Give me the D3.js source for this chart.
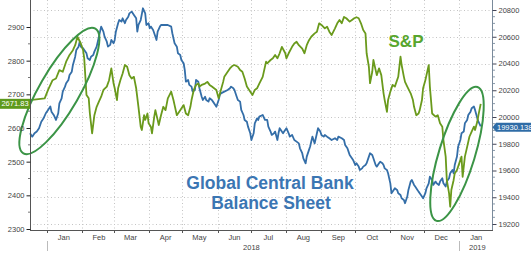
<!DOCTYPE html>
<html><head><meta charset="utf-8">
<script src="https://cdn.jsdelivr.net/npm/d3@7"></script>
<style>
html,body{margin:0;padding:0;background:#fff;}
svg{display:block;}
text{font-family:"Liberation Sans",Arial,sans-serif;}
</style></head>
<body><svg id="c" width="531" height="258"></svg>
<script>
// S&P 500 (left axis) — x = days since 2018-01-01
const spDays = [-15,-2,1,5,8,11,14,17,20,23,25,27,30,32,33,35,37,38,40,42,44,46,48,50,53,55,57,59,60,62,63,65,67,69,71,73,75,77,79,81,83,84,86,87,89,90,92,93,95,96,98,99,101,103,105,107,110,112,113,115,118,120,121,123,125,127,128,130,132,134,135,137,140,142,144,146,148,150,152,154,156,157,160,162,164,166,169,171,173,175,177,180,182,184,186,188,191,194,195,198,200,202,204,206,208,211,212,214,217,219,221,223,226,228,230,232,234,237,239,241,243,246,248,250,252,255,257,259,261,263,265,268,270,272,274,276,278,280,282,283,285,286,288,289,291,292,294,296,298,299,301,302,304,306,308,311,313,314,316,317,319,322,324,325,327,329,330,332,333,335,336,338,339,341,344,346,348,350,351,353,354,356,357,358,360,361,363,365,367,368,370,372,374,376,378,379,381,382,384];
const spValues = [2683,2688,2713,2742,2747,2772,2767,2797,2817,2831,2846,2871,2851,2831,2807,2698,2688,2643,2584,2638,2663,2678,2693,2713,2723,2742,2777,2732,2718,2683,2718,2742,2762,2787,2782,2757,2747,2752,2718,2663,2604,2594,2638,2624,2643,2614,2604,2584,2634,2653,2624,2609,2638,2663,2653,2688,2708,2683,2668,2638,2653,2663,2668,2643,2638,2663,2683,2713,2728,2732,2723,2728,2732,2737,2728,2723,2718,2713,2688,2713,2737,2752,2767,2777,2784,2787,2782,2772,2767,2747,2723,2708,2698,2713,2718,2732,2752,2797,2792,2802,2807,2817,2807,2822,2841,2822,2807,2822,2841,2851,2856,2846,2836,2822,2846,2861,2871,2881,2886,2911,2906,2896,2901,2886,2876,2896,2911,2921,2911,2930,2926,2916,2921,2926,2929,2926,2911,2891,2881,2822,2782,2733,2767,2802,2772,2757,2777,2757,2703,2683,2648,2683,2708,2728,2723,2752,2812,2787,2752,2737,2723,2703,2683,2663,2638,2643,2653,2683,2718,2742,2757,2787,2723,2643,2634,2638,2614,2604,2564,2515,2445,2406,2366,2416,2445,2465,2475,2495,2515,2455,2515,2544,2574,2589,2604,2594,2619,2638,2671.83];

// Global Central Bank Balance Sheet (right axis) — x = days since 2018-01-01
const gcbDays = [-15,-13,-11,-9,-7,-5,-3,-1,1,3,4,6,8,10,11,13,14,16,17,19,20,22,23,25,26,28,29,30,32,33,35,36,38,39,41,42,44,45,47,48,50,51,53,54,56,57,59,60,61,63,64,66,67,69,70,72,73,75,77,79,80,81,83,85,87,88,90,91,92,94,95,97,98,100,101,104,107,110,111,113,115,116,118,119,121,122,123,125,126,128,129,131,132,134,135,137,138,140,141,143,144,146,147,149,150,152,153,154,157,160,162,163,165,166,168,169,171,172,174,175,177,178,180,181,183,184,186,187,188,191,193,195,196,198,199,201,202,204,205,206,209,210,212,214,215,217,219,221,223,224,226,227,229,230,232,233,235,236,237,239,240,242,243,245,246,248,250,252,255,257,258,261,263,264,266,267,268,270,271,273,274,276,277,279,280,282,283,285,286,288,289,291,292,294,295,297,298,299,301,302,304,305,307,308,310,311,313,314,316,317,319,320,322,323,325,326,328,329,330,332,333,335,336,338,339,341,342,344,345,347,348,350,351,353,354,356,357,359,360,361,363,364,366,367,369,370,372,373,375,376,378,379,381,382,384];
const gcbValues = [19878,19853,19878,19891,19916,19965,19990,20028,20053,20078,20040,20015,19978,20028,20102,20140,20190,20227,20252,20277,20314,20339,20389,20451,20501,20526,20563,20526,20514,20501,20476,20439,20426,20451,20464,20489,20526,20563,20638,20676,20638,20601,20563,20526,20539,20576,20551,20576,20638,20701,20725,20713,20738,20701,20725,20750,20775,20788,20763,20738,20638,20688,20725,20813,20775,20688,20701,20663,20676,20651,20626,20576,20638,20676,20688,20688,20688,20676,20626,20551,20526,20476,20464,20426,20402,20352,20264,20277,20240,20227,20190,20202,20277,20264,20215,20152,20127,20152,20127,20115,20140,20127,20115,20090,20077,20127,20165,20177,20190,20202,20215,20227,20215,20202,20152,20127,20115,20053,20015,19978,19965,19928,19878,19828,19878,19953,19990,19978,20003,20015,19978,19978,19928,19891,19866,19878,19891,19828,19878,19916,19878,19891,19916,19878,19853,19866,19828,19816,19803,19766,19729,19691,19654,19704,19754,19779,19853,19828,19803,19878,19916,19891,19866,19853,19866,19853,19841,19828,19841,19828,19853,19841,19828,19791,19766,19741,19716,19691,19679,19641,19654,19629,19604,19616,19629,19641,19654,19704,19729,19716,19691,19641,19629,19654,19666,19654,19641,19616,19604,19579,19504,19430,19455,19467,19455,19430,19417,19392,19380,19355,19405,19455,19517,19529,19492,19480,19455,19442,19430,19405,19392,19430,19467,19504,19554,19529,19492,19517,19504,19492,19517,19542,19504,19480,19517,19542,19579,19604,19579,19641,19704,19778,19828,19878,19891,19953,19978,20015,20040,20065,20078,20053,19990,19965,19930.138];

const monthLabels = ["Jan","Feb","Mar","Apr","May","Jun","Jul","Aug","Sep","Oct","Nov","Dec","Jan"];
const yearLabels = ["2018","2019"];
const leftTicks = [2300,2400,2500,2600,2700,2800,2900];
const rightTicks = [19200,19400,19600,19800,20000,20200,20400,20600,20800];
const spLast = "2671.83";
const gcbLast = "19930.138";

const toDate = d => new Date(2018, 0, 1 + d);
const svg = d3.select("#c");
const L = 30, R = 492, B = 230, T = 0;

const x = d3.scaleTime().domain([new Date(2017,11,17), new Date(2019,0,30)]).range([L, R]);
const yL = d3.scaleLinear().domain([2300, 2900]).range([229, 27]);
const yR = d3.scaleLinear().domain([19200, 20800]).range([224, 10]);

const monthStarts = d3.timeMonth.range(new Date(2018,0,1), new Date(2019,0,2));

// grid
const grid = svg.append("g").attr("stroke","#c4c4c4").attr("stroke-width",1).attr("stroke-dasharray","1,2.5");
rightTicks.forEach(v => grid.append("line").attr("x1",L).attr("x2",R).attr("y1",Math.round(yR(v))+0.5).attr("y2",Math.round(yR(v))+0.5));
monthStarts.forEach(d => grid.append("line").attr("x1",Math.round(x(d))+0.5).attr("x2",Math.round(x(d))+0.5).attr("y1",T).attr("y2",B));

// lines
const spData = spDays.map((d,i)=>({date:toDate(d), v:spValues[i]}));
const gcbData = gcbDays.map((d,i)=>({date:toDate(d), v:gcbValues[i]}));
svg.append("path").datum(gcbData)
  .attr("fill","none").attr("stroke","#346ea8").attr("stroke-width",1.8).attr("stroke-linejoin","round")
  .attr("d", d3.line().x(d=>x(d.date)).y(d=>yR(d.v)));
svg.append("path").datum(spData)
  .attr("fill","none").attr("stroke","#6a9a1c").attr("stroke-width",1.8).attr("stroke-linejoin","round")
  .attr("d", d3.line().x(d=>x(d.date)).y(d=>yL(d.v)));

// annotation ellipses
const ell = [
  {day: 11.5, val: 2710, rx: 72, ry: 20, rot: -60},
  {day: 363.5, val: 2523, rx: 70, ry: 18, rot: -73}
];
ell.forEach(e => {
  const cx = x(toDate(e.day)), cy = yL(e.val);
  svg.append("ellipse").attr("cx",0).attr("cy",0).attr("rx",e.rx).attr("ry",e.ry)
    .attr("transform",`translate(${cx},${cy}) rotate(${e.rot})`)
    .attr("fill","none").attr("stroke","#3b9446").attr("stroke-width",2);
});

// axes
const axisCol = "#555";
svg.append("line").attr("x1",L+0.5).attr("x2",L+0.5).attr("y1",T).attr("y2",B).attr("stroke",axisCol);
svg.append("line").attr("x1",R+0.5).attr("x2",R+0.5).attr("y1",T).attr("y2",B).attr("stroke","#7a8a9a");
svg.append("line").attr("x1",L).attr("x2",R+1).attr("y1",B+0.5).attr("y2",B+0.5).attr("stroke",axisCol);

const gl = svg.append("g").attr("transform",`translate(${L+0.5},0)`).call(
  d3.axisLeft(yL).tickValues(leftTicks).tickSize(4).tickPadding(2).tickFormat(d3.format("d")));
gl.select(".domain").remove();
gl.selectAll("line").attr("stroke","#222");
gl.selectAll("text").attr("font-size",7.5).attr("fill","#444").attr("font-family","Liberation Sans, Arial, sans-serif");

// left minor ticks
d3.range(2350, 2950, 100).forEach(v => svg.append("line").attr("x1",L-2).attr("x2",L).attr("y1",yL(v)).attr("y2",yL(v)).attr("stroke","#777"));

const gr = svg.append("g").attr("transform",`translate(${R+0.5},0)`).call(
  d3.axisRight(yR).tickValues(rightTicks).tickSize(4).tickPadding(2).tickFormat(d3.format("d")));
gr.select(".domain").remove();
gr.selectAll("line").attr("stroke","#445");
gr.selectAll("text").attr("font-size",7.5).attr("fill","#444").attr("font-family","Liberation Sans, Arial, sans-serif");
d3.range(19250, 20850, 50).filter(v => v % 200 !== 0).forEach(v =>
  svg.append("line").attr("x1",R+1).attr("x2",R+3).attr("y1",yR(v)).attr("y2",yR(v)).attr("stroke","#8899aa"));

// bottom ticks
monthStarts.forEach((d,i) => {
  const xx = Math.round(x(d))+0.5;
  const isYear = d.getMonth() === 0;
  svg.append("line").attr("x1",xx).attr("x2",xx).attr("y1",B).attr("y2",B+3).attr("stroke","#555");
  if (isYear) svg.append("line").attr("x1",xx).attr("x2",xx).attr("y1",B+11).attr("y2",B+21).attr("stroke","#bbb");
});
monthLabels.forEach((m,i) => {
  const mid = new Date(2018, i, 16);
  svg.append("text").attr("x",x(mid)).attr("y",B+10).attr("text-anchor","middle")
    .attr("font-size",7.5).attr("fill","#444").text(m);
});
svg.append("text").attr("x",x(new Date(2018,6,1))).attr("y",B+20).attr("text-anchor","middle").attr("font-size",7.5).attr("fill","#444").text(yearLabels[0]);
svg.append("text").attr("x",x(new Date(2019,0,17))).attr("y",B+20).attr("text-anchor","middle").attr("font-size",7.5).attr("fill","#444").text(yearLabels[1]);

// last value tags
const ySp = yL(spValues[spValues.length-1]);
svg.append("rect").attr("x",0).attr("y",ySp-5).attr("width",L).attr("height",10).attr("fill","#5e9a1c");
svg.append("text").attr("x",L/2).attr("y",ySp+2.5).attr("text-anchor","middle").attr("font-size",7.5).attr("fill","#fff").text(spLast);

const yG = yR(gcbValues[gcbValues.length-1]) + 1;
svg.append("path").attr("d",`M${R+0.5},${yG} L${R+4},${yG-4.5} L531,${yG-4.5} L531,${yG+4.5} L${R+4},${yG+4.5} Z`).attr("fill","#2f6ca6");
svg.append("text").attr("x",R+5).attr("y",yG+2.6).attr("font-size",7.5).attr("fill","#fff").text(gcbLast);

// annotation text
svg.append("text").attr("x",406).attr("y",47).attr("text-anchor","middle").attr("font-size",17).attr("font-weight","bold").attr("fill","#58a62e").text("S&P");
svg.append("text").attr("x",270).attr("y",189).attr("text-anchor","middle").attr("font-size",17.5).attr("font-weight","bold").attr("fill","#3b76b3").text("Global Central Bank");
svg.append("text").attr("x",271).attr("y",209).attr("text-anchor","middle").attr("font-size",17.5).attr("font-weight","bold").attr("fill","#3b76b3").text("Balance Sheet");
</script></body></html>
